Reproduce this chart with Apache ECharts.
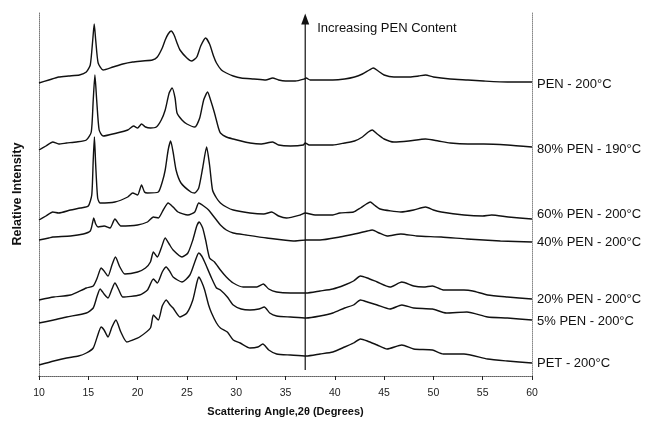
<!DOCTYPE html>
<html>
<head>
<meta charset="utf-8">
<script src="https://cdn.jsdelivr.net/npm/echarts@6/dist/echarts.min.js"></script>
<style>
html,body{margin:0;padding:0;background:#fff;}
#c{width:645px;height:422px;}
</style>
</head>
<body>
<div id="c"></div>
<script>
// ---- data (x = 2θ in degrees, y = relative intensity incl. stacking offset) ----
const xTicks = [10, 15, 20, 25, 30, 35, 40, 45, 50, 55, 60];

const penName = "PEN - 200°C";
const penX = [10.0,11.0,12.0,13.0,14.1,14.8,15.2,15.45,15.6,15.75,16.0,16.5,17.5,18.5,19.5,20.5,21.5,22.0,22.5,22.8,23.1,23.4,23.7,24.0,24.3,25.0,25.5,26.0,26.4,26.9,27.3,27.7,28.0,28.5,29.0,29.7,30.5,31.8,33.0,33.7,34.3,35.0,36.0,36.9,37.1,37.5,38.5,39.8,41.0,42.0,42.8,43.5,43.9,44.4,45.0,46.0,47.6,48.5,49.2,50.0,51.7,53.5,55.1,57.5,60.0];
const penY = [293,296,299,300,301,304,311,336,352,336,313,306,309,312,314,315,316,319,328,336,342,345,341,333,326,318,315,319,330,338,332,320,313,306,303,300,298,297,296,298,296,295,295,297,298,296,296,296,297,299,302,306,308,305,301,299,299,300,301,299,297,296,295,294,294];

const p80Name = "80% PEN - 190°C";
const p80X = [10.0,10.7,11.4,12.0,12.8,13.8,14.8,15.3,15.5,15.67,15.85,16.1,16.5,17.9,19.0,19.6,20.0,20.4,20.8,21.3,21.9,22.4,22.8,23.2,23.5,23.8,24.0,24.5,25.0,25.8,26.3,26.7,27.1,27.4,27.8,28.2,28.4,29.0,29.7,30.5,31.4,32.5,33.7,34.3,35.5,36.8,37.0,37.4,38.5,39.8,41.0,42.0,42.8,43.4,43.8,44.3,45.0,46.0,47.5,49.2,50.5,51.7,53.5,55.1,57.5,60.0];
const p80Y = [226,230,234,232,233,234,236,244,276,301,276,246,240,243,246,250,248,252,249,248,249,256,266,283,288,278,263,256,252,249,258,276,284,276,263,248,243,239,237,235,233,232,234,231,230,231,233,231,231,231,233,235,239,244,246,242,237,234,235,237,235,233,232,232,231,229];

const p60Name = "60% PEN - 200°C";
const p60X = [10.0,10.7,11.4,12.0,13.2,14.2,15.0,15.35,15.5,15.62,15.75,15.95,16.2,17.7,19.0,19.5,20.0,20.4,20.7,21.0,22.1,22.5,22.8,23.1,23.35,23.6,23.9,24.4,25.4,25.8,26.2,26.6,27.0,27.3,27.6,28.0,28.4,29.0,29.7,31.4,32.8,33.6,34.3,35.1,36.5,37.0,38.0,39.8,40.5,41.9,42.6,43.2,43.6,44.0,44.6,46.7,48.0,49.2,50.0,50.8,53.1,55.0,55.9,57.6,60.0];
const p60Y = [156,160,164,163,166,168,170,181,216,239,211,178,173,174,179,183,181,191,184,183,184,194,206,226,235,224,206,193,184,183,188,208,229,211,186,178,173,169,166,163,162,164,160,158,161,163,161,161,163,164,168,172,174,171,167,164,166,169,166,164,161,160,161,159,157];

const p40Name = "40% PEN - 200°C";
const p40X = [10.0,11.0,11.4,13.2,14.5,15.2,15.45,15.55,15.75,16.0,16.6,17.2,17.7,18.3,20.0,21.0,21.6,22.1,22.6,23.1,23.6,24.1,25.1,25.8,26.2,26.7,27.2,27.6,28.0,28.4,29.0,29.7,31.0,33.1,35.8,37.1,38.5,40.5,42.0,43.3,43.8,44.5,45.3,46.7,48.3,50.8,53.4,56.8,60.0];
const p40Y = [136,138,139,140,142,145,154,158,152,149,150,148,157,150,151,154,159,158,166,173,169,164,161,164,173,170,166,161,156,151,146,143,141,138,135,136,136,139,142,145,146,143,140,142,140,139,137,135,134];

const p20Name = "20% PEN - 200°C";
const p20X = [10.0,11.5,13.2,14.8,15.5,15.9,16.3,16.6,17.0,17.4,17.75,18.2,18.7,20.0,20.8,21.3,21.6,22.0,22.4,22.8,23.2,23.6,24.5,25.1,25.6,26.0,26.25,26.6,26.9,27.3,27.8,28.4,29.0,29.7,30.7,32.1,32.75,33.3,34.1,35.5,37.1,38.5,39.8,41.0,41.9,42.6,43.3,44.3,45.6,46.8,48.0,49.0,49.9,51.0,53.1,54.0,55.5,57.5,60.0];
const p20Y = [76,79,81,88,90,98,108,105,100,111,119,109,102,104,108,114,124,119,128,138,132,126,119,123,136,150,154,148,136,118,114,106,99,93,89,89,92,87,84,83,83,85,87,91,95,100,98,94,89,94,90,89,90,86,86,85,81,79,77];

const p5Name = "5% PEN - 200°C";
const p5X = [10.0,11.5,12.8,14.8,15.5,15.9,16.2,16.6,17.0,17.4,17.7,18.1,18.5,20.2,21.0,21.6,22.0,22.5,22.9,23.3,23.6,24.5,25.3,25.8,26.2,26.5,26.8,27.5,28.0,28.4,29.1,29.7,30.5,31.4,32.3,32.85,33.4,34.1,35.5,37.1,38.5,39.8,41.0,41.9,42.6,43.3,44.3,45.6,46.8,48.0,49.9,51.3,53.4,55.5,57.5,60.0];
const p5Y = [53,56,59,63,68,80,87,82,78,87,93,86,79,81,86,97,93,104,109,104,99,94,101,114,123,120,114,98,88,86,79,71,67,66,67,69,63,60,59,58,60,63,68,71,76,74,71,67,71,68,67,63,64,59,58,56];

const petName = "PET - 200°C";
const petX = [10.0,11.5,12.8,14.0,14.8,15.5,15.9,16.3,16.6,17.0,17.4,17.8,18.3,18.9,19.5,20.2,21.3,21.6,22.1,22.5,22.9,23.3,23.6,24.3,25.0,25.6,26.0,26.2,26.5,26.8,27.2,27.5,28.0,28.4,29.1,29.7,30.4,31.4,32.2,32.7,33.3,34.1,35.5,37.1,38.5,39.8,41.0,41.9,42.6,43.3,44.3,45.3,46.8,48.0,49.9,51.0,53.1,55.5,57.5,60.0];
const petY = [11,15,18,20,23,28,39,49,46,39,49,56,44,34,36,39,48,61,56,70,76,71,68,59,63,76,93,99,94,86,71,63,53,48,44,36,33,28,29,32,26,22,21,20,22,24,29,33,37,35,31,27,31,27,26,22,22,17,15,13];

// arrow annotation (data units)
const arrowX = 37;
const arrowFrom = 6;
const arrowTo = 357;
const arrowText = "Increasing PEN Content";
const arrowTextY = 348;

const curves = [
  {name: penName, x: penX, y: penY, dy: 2},
  {name: p80Name, x: p80X, y: p80Y, dy: 2},
  {name: p60Name, x: p60X, y: p60Y, dy: -5},
  {name: p40Name, x: p40X, y: p40Y, dy: 0},
  {name: p20Name, x: p20X, y: p20Y, dy: 0},
  {name: p5Name, x: p5X, y: p5Y, dy: 1},
  {name: petName, x: petX, y: petY, dy: 0}
];

const FONT = "'Liberation Sans', Arial, Helvetica, sans-serif";
const chart = echarts.init(document.getElementById('c'), null, {renderer: 'canvas'});

const series = curves.map(function (c) {
  return {
    type: 'line',
    name: c.name,
    data: c.x.map(function (xv, k) { return [xv, c.y[k]]; }),
    showSymbol: false,
    symbol: 'none',
    smooth: 0.2,
    lineStyle: {color: '#111', width: 1.4, join: 'round'},
    animation: false,
    silent: true,
    endLabel: {
      show: true,
      formatter: c.name,
      color: '#111',
      fontFamily: FONT,
      fontSize: 13,
      distance: 5,
      offset: [0, c.dy]
    }
  };
});

// arrow drawn as its own line series with an arrow head at the top end
series.push({
  type: 'line',
  name: 'arrow',
  data: [[arrowX, arrowFrom], [arrowX, arrowTo]],
  silent: true,
  animation: false,
  showSymbol: false,
  symbol: 'none',
  lineStyle: {color: '#111', width: 1.2},
  markPoint: {
    silent: true,
    animation: false,
    data: [
      {coord: [arrowX, arrowTo], symbol: 'triangle', symbolSize: [8, 11],
       itemStyle: {color: '#111'}, label: {show: false}},
      {coord: [arrowX, arrowTextY], symbol: 'circle', symbolSize: 0,
       label: {
         show: true,
         position: 'right',
         distance: 12,
         formatter: arrowText,
         color: '#111',
         fontFamily: FONT,
         fontSize: 13
       }}
    ]
  }
});

chart.setOption({
  backgroundColor: '#fff',
  animation: false,
  grid: {left: 39, right: 113, top: 12, bottom: 46, containLabel: false},
  xAxis: [{
    type: 'value',
    min: 10, max: 60, interval: 5,
    name: 'Scattering Angle,2θ (Degrees)',
    nameLocation: 'middle',
    nameGap: 30,
    nameTextStyle: {fontFamily: FONT, fontSize: 11, fontWeight: 'bold', color: '#111'},
    axisLine: {show: true, onZero: false, lineStyle: {color: '#222', width: 1}},
    axisTick: {show: true, length: 4, lineStyle: {color: '#222'}},
    axisLabel: {color: '#222', fontFamily: FONT, fontSize: 10.5, margin: 12,
      formatter: function (v) { return xTicks.indexOf(v) >= 0 ? String(v) : ''; }},
    splitLine: {show: false}
  }, {
    type: 'value', position: 'top', min: 10, max: 60,
    axisLine: {show: true, lineStyle: {color: '#888', type: 'dotted', width: 1}},
    axisTick: {show: false}, axisLabel: {show: false}, splitLine: {show: false}
  }],
  yAxis: [{
    type: 'value',
    min: 0, max: 364,
    name: 'Relative Intensity',
    nameLocation: 'middle',
    nameGap: 15,
    nameTextStyle: {fontFamily: FONT, fontSize: 12.5, fontWeight: 'bold', color: '#111'},
    axisLine: {show: true, lineStyle: {color: '#777', type: 'dotted', width: 1}},
    axisTick: {show: false}, axisLabel: {show: false}, splitLine: {show: false}
  }, {
    type: 'value', position: 'right', min: 0, max: 364,
    axisLine: {show: true, lineStyle: {color: '#888', type: 'dotted', width: 1}},
    axisTick: {show: false}, axisLabel: {show: false}, splitLine: {show: false}
  }],
  series: series
});
</script>
</body>
</html>
